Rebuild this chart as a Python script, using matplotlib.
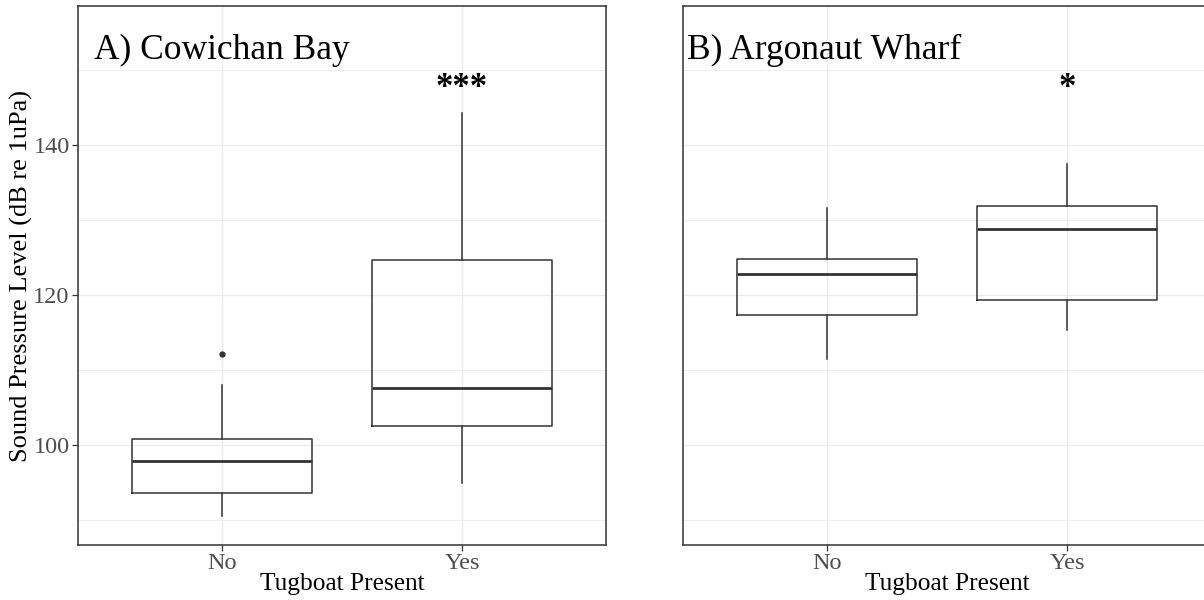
import matplotlib.pyplot as plt
from matplotlib.ticker import MultipleLocator

plt.rcParams['font.family'] = ['Liberation Serif', 'DejaVu Serif']

groups = ['No', 'Yes']

# Cowichan Bay box summaries (No, Yes)
cb_low = [90.5, 95.0]
cb_q1 = [93.6, 102.5]
cb_med = [97.9, 107.6]
cb_q3 = [100.8, 124.6]
cb_high = [108.0, 144.3]
cb_out = [[112.1], []]

# Argonaut Wharf box summaries (No, Yes)
aw_low = [111.5, 115.3]
aw_q1 = [117.3, 119.3]
aw_med = [122.8, 128.8]
aw_q3 = [124.8, 131.9]
aw_high = [131.6, 137.4]
aw_out = [[], []]

titles = ['A) Cowichan Bay', 'B) Argonaut Wharf']
stars = ['***', '*']

dark = '#333333'
grid = '#EBEBEB'

fig = plt.figure(figsize=(12.04, 6), dpi=100)
W, H = 1204, 600
ax1 = fig.add_axes([78 / W, 55 / H, 528 / W, 539 / H])
ax2 = fig.add_axes([683 / W, 55 / H, 528 / W, 539 / H])

panels = [
    (ax1, cb_low, cb_q1, cb_med, cb_q3, cb_high, cb_out),
    (ax2, aw_low, aw_q1, aw_med, aw_q3, aw_high, aw_out),
]
title_x = [0.465, 0.415]

for i, (ax, lo, q1, med, q3, hi, out) in enumerate(panels):
    stats = []
    for j, g in enumerate(groups):
        stats.append(dict(label=g, whislo=lo[j], q1=q1[j], med=med[j],
                          q3=q3[j], whishi=hi[j], fliers=out[j]))
    ax.bxp(stats, positions=[1, 2], widths=0.75, showcaps=False,
           boxprops=dict(color=dark, linewidth=1.1),
           whiskerprops=dict(color=dark, linewidth=1.1),
           medianprops=dict(color=dark, linewidth=2.0),
           flierprops=dict(marker='o', markersize=3.5, markerfacecolor=dark,
                           markeredgecolor=dark))

    ax.set_xlim(0.4, 2.6)
    ax.set_ylim(86.7, 158.5)
    ax.yaxis.set_major_locator(MultipleLocator(20))
    ax.yaxis.set_minor_locator(MultipleLocator(10))
    ax.grid(which='major', color=grid, linewidth=1.0, zorder=0)
    ax.grid(which='minor', axis='y', color=grid, linewidth=0.6, zorder=0)
    ax.set_axisbelow(True)
    ax.tick_params(which='minor', length=0)
    ax.tick_params(which='major', color=dark, length=4, width=0.9,
                   labelsize=17.5, labelcolor='#4D4D4D', pad=2)
    for s in ax.spines.values():
        s.set_color(dark)
        s.set_linewidth(1.1)
    ax.set_xticks([1, 2])
    ax.set_xticklabels(groups)
    ax.set_xlabel('Tugboat Present', fontsize=18.3, labelpad=-1)

    ax.text(title_x[i], 151.4, titles[i], fontsize=25.5, ha='left', va='baseline')
    ax.text(2, 146.4, stars[i], fontsize=25, fontweight='bold',
            ha='center', va='baseline')

ax1.set_ylabel('Sound Pressure Level (dB re 1uPa)', fontsize=19, labelpad=0)
ax2.tick_params(axis='y', which='both', length=0, labelleft=False)

fig.savefig('out.png', dpi=100, facecolor='white')
